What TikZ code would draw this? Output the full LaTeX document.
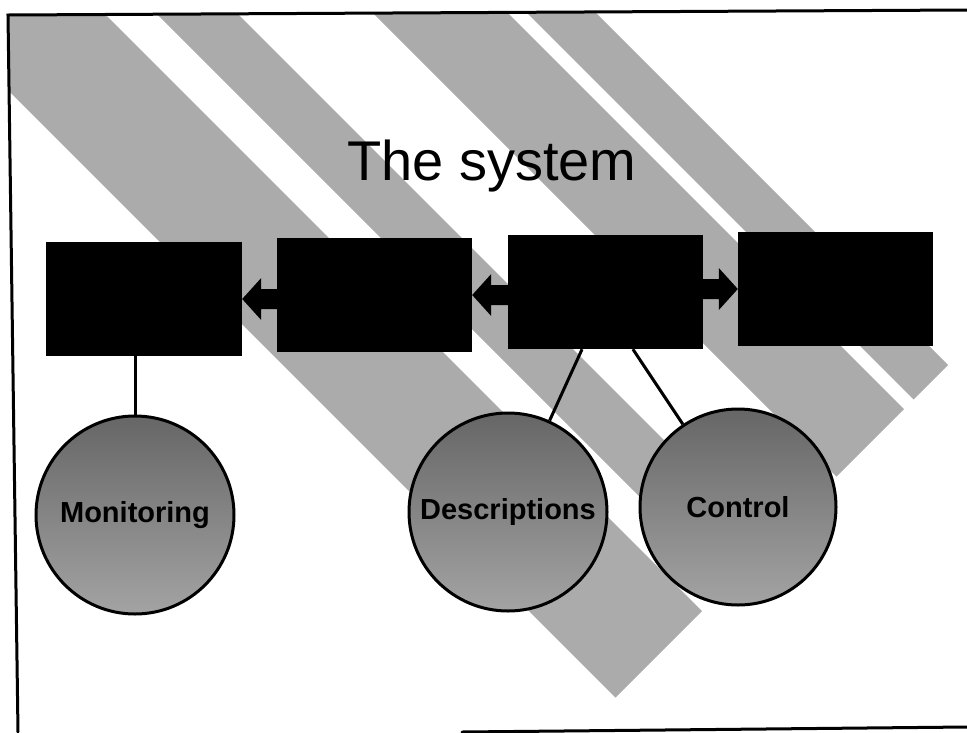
\documentclass[tikz,border=0pt]{standalone}
\usepackage{fontspec}
\setmainfont{Liberation Sans}
\usetikzlibrary{calc}

\tikzset{
  band/.style={fill=black!33},
  frameline/.style={line width=3pt, line cap=round},
  blockbox/.style={rectangle, fill=black, inner sep=0pt,
    minimum width=195pt, minimum height=114pt},
  bubble/.style={circle, draw=black, line width=3pt, inner sep=0pt,
    top color=black!60, bottom color=black!36,
    font=\fontsize{29}{32}\selectfont\bfseries},
  link/.style={line width=3pt},
  arrowfill/.style={fill=black}
}

\begin{document}
\begin{tikzpicture}[x=1pt, y=-1pt]
  \useasboundingbox (0,0) rectangle (967,732);

  % diagonal background bands, cut off square at v = x + y = 1313
  \begin{scope}
    \clip (8,15) -- (967,10) -- (967,732) -- (18,732) -- cycle;
    \fill[band] (-191,-109) -- (615.5,697.5) -- (702,611) -- (-104.5,-195.5) -- cycle;
    \fill[band] (-78.5,-221.5) -- (728,585) -- (768.5,544.5) -- (-38,-262) -- cycle;
    \fill[band] (30,-330) -- (836.5,476.5) -- (904,409) -- (97.5,-397.5) -- cycle;
    \fill[band] (107,-407) -- (913.5,399.5) -- (948,365) -- (141.5,-441.5) -- cycle;
  \end{scope}

  % page frame
  \draw[frameline] (967,10) -- (8,15) -- (18,732);
  \draw[frameline] (462,732) -- (967,727);

  % title
  \node[anchor=base west, inner sep=0pt, font=\fontsize{56}{60}\selectfont]
    (title) at (347,180) {The system};

  % row of blocks
  \node[blockbox, minimum width=196pt] (b1) at (144,299) {};
  \node[blockbox] (b2) at (374.5,295) {};
  \node[blockbox] (b3) at (605.5,292) {};
  \node[blockbox] (b4) at (835.5,289) {};

  % block arrows between the blocks
  \fill[arrowfill] (b1.east) -- ++(19,-21) -- ++(0,11)
    -- ($(b1.east -| b2.west)+(0,-10)$) -- ($(b1.east -| b2.west)+(0,10)$)
    -- ($(b1.east)+(19,10)$) -- ++(0,11) -- cycle;
  \fill[arrowfill] (b2.east) -- ++(19,-21) -- ++(0,11)
    -- ($(b2.east -| b3.west)+(0,-10)$) -- ($(b2.east -| b3.west)+(0,10)$)
    -- ($(b2.east)+(19,10)$) -- ++(0,11) -- cycle;
  \fill[arrowfill] (b4.west) -- ++(-19,-21) -- ++(0,11)
    -- ($(b4.west -| b3.east)+(0,-10)$) -- ($(b4.west -| b3.east)+(0,10)$)
    -- ($(b4.west)+(-19,10)$) -- ++(0,11) -- cycle;

  % circles
  \node[bubble, minimum size=198pt] (mon) at (135,515) {Monitoring};
  \node[bubble, minimum size=198pt] (desc) at (508,512) {Descriptions};
  \node[bubble, minimum size=196pt] (ctrl) at (738,507) {Control};

  % links from the blocks to the circles
  \coordinate (d3) at ($(b3.south west)!0.38!(b3.south east)$);
  \coordinate (c3) at ($(b3.south west)!0.64!(b3.south east)$);
  \draw[link] (mon.north |- b1.south) -- (mon.north);
  \draw[link] (d3) -- (desc);
  \draw[link] (c3) -- (ctrl);
\end{tikzpicture}
\end{document}
